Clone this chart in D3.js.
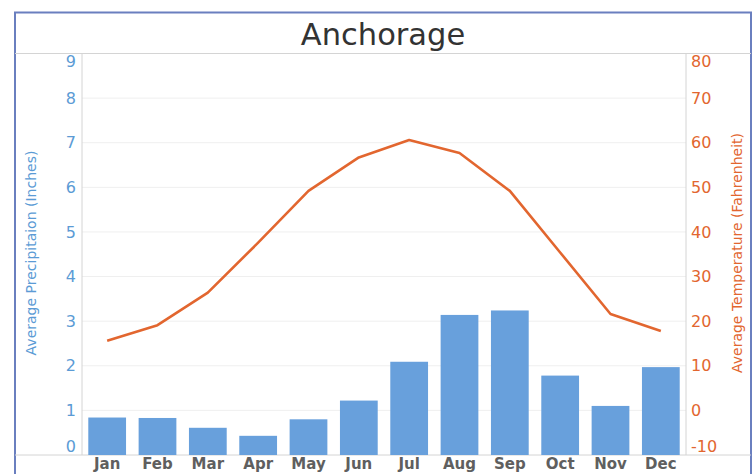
<!DOCTYPE html>
<html>
<head>
<meta charset="utf-8">
<script src="https://cdn.jsdelivr.net/npm/d3@7"></script>
<style>
  body { margin: 0; background: #fff; }
  text { font-family: 'DejaVu Sans', sans-serif; }
</style>
</head>
<body>
<div class="canvas"></div>
<script>
// DATA ---------------------------------------------------------------------
const months = ['Jan', 'Feb', 'Mar', 'Apr', 'May', 'Jun', 'Jul', 'Aug', 'Sep', 'Oct', 'Nov', 'Dec'];
const precipitation = [0.84, 0.83, 0.61, 0.43, 0.80, 1.22, 2.09, 3.14, 3.24, 1.78, 1.10, 1.97];
const temperature = [15.6, 19.1, 26.4, 37.6, 49.2, 56.7, 60.6, 57.7, 49.2, 35.4, 21.6, 17.8];
const precipTicks = [0, 1, 2, 3, 4, 5, 6, 7, 8, 9];
const tempTicks = [-10, 0, 10, 20, 30, 40, 50, 60, 70, 80];

const blue = '#5b9bd5';
const orange = '#e2662f';

// SET UP --------------------------------------------------------------------
const width = 756, height = 474;
const svg = d3.select('.canvas')
    .append('svg')
        .attr('width', width)
        .attr('height', height);

const plot = { left: 82, right: 686, top: 53.5, bottom: 455 };

// outer frame
svg.append('rect')
    .attr('x', 15).attr('y', 12.5)
    .attr('width', 736).attr('height', 500)
    .attr('fill', 'none')
    .attr('stroke', '#6a7fbf')
    .attr('stroke-width', 2);

// title
svg.append('text')
    .attr('x', 383).attr('y', 45)
    .attr('text-anchor', 'middle')
    .attr('fill', '#333')
    .style('font-size', '30.5px')
    .text('Anchorage');

// scales
const x = d3.scaleBand()
    .domain(months)
    .range([plot.left, plot.right])
    .paddingInner(0.25)
    .paddingOuter(0.125);

const yP = d3.scaleLinear().domain([0, 9]).range([plot.bottom, plot.top]);
const yT = d3.scaleLinear().domain([-10, 80]).range([plot.bottom, plot.top]);

// gridlines
svg.append('g')
    .selectAll('line')
    .data(precipTicks.slice(1, -1))
    .join('line')
    .attr('x1', plot.left).attr('x2', plot.right)
    .attr('y1', d => yP(d)).attr('y2', d => yP(d))
    .attr('stroke', '#efefef');

// frame lines around plot
svg.append('line')
    .attr('x1', 15).attr('x2', 751)
    .attr('y1', plot.top).attr('y2', plot.top)
    .attr('stroke', '#d4d4d4');
svg.append('line')
    .attr('x1', 15).attr('x2', 751)
    .attr('y1', plot.bottom).attr('y2', plot.bottom)
    .attr('stroke', '#d4d4d4');
[plot.left, plot.right].forEach(px => {
    svg.append('line')
        .attr('x1', px).attr('x2', px)
        .attr('y1', plot.top).attr('y2', plot.bottom)
        .attr('stroke', '#d4d4d4');
});

// bars
svg.append('g')
    .selectAll('rect')
    .data(months)
    .join('rect')
    .attr('x', d => x(d))
    .attr('width', x.bandwidth())
    .attr('y', (d, i) => yP(precipitation[i]))
    .attr('height', (d, i) => plot.bottom - yP(precipitation[i]))
    .attr('fill', '#68a0dc');

// temperature line
const line = d3.line()
    .x((d, i) => x(months[i]) + x.bandwidth() / 2)
    .y(d => yT(d));

svg.append('path')
    .datum(temperature)
    .attr('d', line)
    .attr('fill', 'none')
    .attr('stroke', orange)
    .attr('stroke-width', 2.6)
    .attr('stroke-linejoin', 'round');

// left tick labels (end labels nudged inside the plot)
const nudge = (v, lo, hi) => v === lo ? -8.5 : (v === hi ? 7.5 : 0);

svg.append('g')
    .selectAll('text')
    .data(precipTicks)
    .join('text')
    .attr('x', 76)
    .attr('y', d => yP(d) + nudge(d, 0, 9))
    .attr('dy', '0.35em')
    .attr('text-anchor', 'end')
    .attr('fill', blue)
    .style('font-size', '16px')
    .text(d => d);

svg.append('g')
    .selectAll('text')
    .data(tempTicks)
    .join('text')
    .attr('x', 691)
    .attr('y', d => yT(d) + nudge(d, -10, 80))
    .attr('dy', '0.35em')
    .attr('text-anchor', 'start')
    .attr('fill', orange)
    .style('font-size', '16px')
    .text(d => d);

// axis titles
svg.append('text')
    .attr('transform', 'translate(36, 253) rotate(-90)')
    .attr('text-anchor', 'middle')
    .attr('fill', blue)
    .style('font-size', '14px')
    .text('Average Precipitaion (Inches)');

svg.append('text')
    .attr('transform', 'translate(742, 253) rotate(-90)')
    .attr('text-anchor', 'middle')
    .attr('fill', orange)
    .style('font-size', '14px')
    .text('Average Temperature (Fahrenheit)');

// month labels
svg.append('g')
    .selectAll('text')
    .data(months)
    .join('text')
    .attr('x', d => x(d) + x.bandwidth() / 2)
    .attr('y', 469)
    .attr('text-anchor', 'middle')
    .attr('fill', '#5f5f5f')
    .style('font-size', '15px')
    .style('font-weight', 'bold')
    .text(d => d);
</script>
</body>
</html>
